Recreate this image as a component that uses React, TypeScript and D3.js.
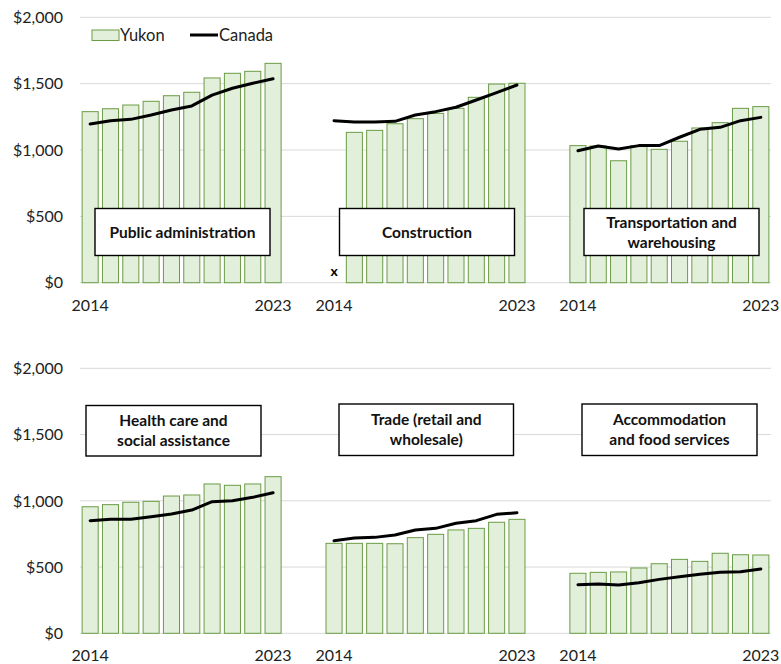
import React from "react";
import * as d3 from "d3";

const years = [2014, 2015, 2016, 2017, 2018, 2019, 2020, 2021, 2022, 2023];
const yTicks = [0, 500, 1000, 1500, 2000];

const topIndustries = ["Public administration", "Construction", "Transportation and warehousing"];
const topLabelLines = [["Public administration"], ["Construction"], ["Transportation and", "warehousing"]];
const bottomIndustries = ["Health care and social assistance", "Trade (retail and wholesale)", "Accommodation and food services"];
const bottomLabelLines = [["Health care and", "social assistance"], ["Trade (retail and", "wholesale)"], ["Accommodation", "and food services"]];

const yukonPublicAdmin = [1289, 1311, 1339, 1367, 1409, 1435, 1543, 1578, 1593, 1653];
const canadaPublicAdmin = [1196, 1221, 1231, 1264, 1301, 1332, 1414, 1465, 1503, 1537];
const yukonConstruction: (number | null)[] = [null, 1133, 1148, 1198, 1236, 1276, 1314, 1397, 1497, 1503];
const canadaConstruction = [1221, 1211, 1211, 1216, 1264, 1289, 1322, 1377, 1432, 1490];
const yukonTransport = [1033, 1030, 919, 1033, 1005, 1066, 1166, 1206, 1314, 1327];
const canadaTransport = [995, 1030, 1008, 1033, 1033, 1096, 1156, 1171, 1221, 1246];

const yukonHealth = [955, 971, 989, 996, 1036, 1044, 1127, 1117, 1127, 1182];
const canadaHealth = [850, 860, 860, 880, 900, 930, 993, 1001, 1026, 1061];
const yukonTrade = [679, 679, 679, 676, 722, 747, 780, 792, 838, 860];
const canadaTrade = [699, 719, 724, 742, 780, 792, 830, 850, 898, 910];
const yukonAccom = [453, 460, 463, 493, 525, 558, 543, 604, 593, 591];
const canadaAccom = [367, 372, 365, 382, 407, 427, 445, 460, 465, 485];

const topYukon = [yukonPublicAdmin, yukonConstruction, yukonTransport];
const topCanada = [canadaPublicAdmin, canadaConstruction, canadaTransport];
const bottomYukon = [yukonHealth, yukonTrade, yukonAccom];
const bottomCanada = [canadaHealth, canadaTrade, canadaAccom];

const FONT = "Lato, 'Open Sans', sans-serif";
const BAR_FILL = "#e2efda";
const BAR_STROKE = "#6a9c45";

const categories = d3.range(34).map(String);
const x = d3.scaleBand<string>().domain(categories).range([80, 771]).paddingInner(0.16).paddingOuter(0.08);
const catIndex = (g: number, i: number) => String(g * 12 + i);

// label boxes (x, y, w, h) per panel
const topBoxes = [
  [95, 208.5, 175, 47],
  [339.5, 208.5, 175, 47],
  [584, 208.5, 175, 47],
];
const bottomBoxes = [
  [86, 405.5, 175, 50.5],
  [339, 404, 174.5, 51.5],
  [582, 404, 175, 51.5],
];

function Panel({ top, bottom, yukon, canada, boxes, labels, showLegend }: any) {
  const y = d3.scaleLinear().domain([0, 2000]).range([bottom, top]);
  const bw = x.bandwidth();
  return (
    <g>
      {yTicks.map((t) => (
        <g key={t}>
          <line x1={80} x2={771} y1={y(t)} y2={y(t)} stroke="#d9d9d9" strokeWidth={1} />
          <text x={63} y={y(t)} dy="0.36em" textAnchor="end" fontSize={16} fill="#222" fontFamily={FONT}>
            {d3.format("$,")(t)}
          </text>
        </g>
      ))}
      {yukon.map((series: (number | null)[], g: number) =>
        series.map((v, i) =>
          v == null ? null : (
            <rect
              key={`${g}-${i}`}
              x={x(catIndex(g, i))! + 0.5}
              y={y(v)}
              width={bw - 1}
              height={y(0) - y(v)}
              fill={BAR_FILL}
              stroke={BAR_STROKE}
              strokeWidth={1}
            />
          )
        )
      )}
      {canada.map((series: number[], g: number) => {
        const line = d3
          .line<number>()
          .x((_, i) => x(catIndex(g, i))! + bw / 2)
          .y((d) => y(d));
        return (
          <path key={g} d={line(series)!} fill="none" stroke="#000" strokeWidth={3} strokeLinejoin="round" strokeLinecap="round" />
        );
      })}
      {yukon.map((series: (number | null)[], g: number) =>
        series.map((v, i) =>
          v == null ? (
            <text
              key={`x-${g}-${i}`}
              x={x(catIndex(g, i))! + bw / 2}
              y={y(0) - 7}
              textAnchor="middle"
              fontSize={14}
              fontWeight="bold"
              fontFamily={FONT}
              fill="#000"
            >
              x
            </text>
          ) : null
        )
      )}
      {[0, 1, 2].map((g) => (
        <g key={g}>
          <text x={x(catIndex(g, 0))! + bw / 2} y={bottom + 28} textAnchor="middle" fontSize={16} fill="#222" fontFamily={FONT}>
            {years[0]}
          </text>
          <text x={x(catIndex(g, 9))! + bw / 2} y={bottom + 28} textAnchor="middle" fontSize={16} fill="#222" fontFamily={FONT}>
            {years[9]}
          </text>
        </g>
      ))}
      {boxes.map((b: number[], g: number) => {
        const lines: string[] = labels[g];
        const cx = b[0] + b[2] / 2;
        const cy = b[1] + b[3] / 2;
        const lh = 20;
        return (
          <g key={`box-${g}`}>
            <rect x={b[0]} y={b[1]} width={b[2]} height={b[3]} fill="#fff" stroke="#000" strokeWidth={1.4} />
            {lines.map((l, k) => (
              <text
                key={k}
                x={cx}
                y={cy + (k - (lines.length - 1) / 2) * lh}
                dy="0.36em"
                textAnchor="middle"
                fontSize={15.5}
                fontWeight="bold"
                fontFamily={FONT}
                fill="#111"
              >
                {l}
              </text>
            ))}
          </g>
        );
      })}
      {showLegend && (
        <g>
          <rect x={92} y={30} width={27} height={10.5} fill={BAR_FILL} stroke={BAR_STROKE} strokeWidth={1} />
          <text x={120} y={35.5} dy="0.36em" fontSize={16.5} fill="#222" fontFamily={FONT}>
            Yukon
          </text>
          <line x1={190} x2={218} y1={35} y2={35} stroke="#000" strokeWidth={3} />
          <text x={219} y={35.5} dy="0.36em" fontSize={16.5} fill="#222" fontFamily={FONT}>
            Canada
          </text>
        </g>
      )}
    </g>
  );
}

export default function App() {
  return (
    <svg
      width={781}
      height={664}
      style={{ position: "absolute", left: 0, top: 0, background: "#fff" }}
      fontFamily={FONT}
    >
      <rect width={781} height={664} fill="#fff" />
      <Panel top={17.3} bottom={282.7} yukon={topYukon} canada={topCanada} boxes={topBoxes} labels={topLabelLines} showLegend={true} />
      <Panel top={368.3} bottom={633.3} yukon={bottomYukon} canada={bottomCanada} boxes={bottomBoxes} labels={bottomLabelLines} showLegend={false} />
    </svg>
  );
}
